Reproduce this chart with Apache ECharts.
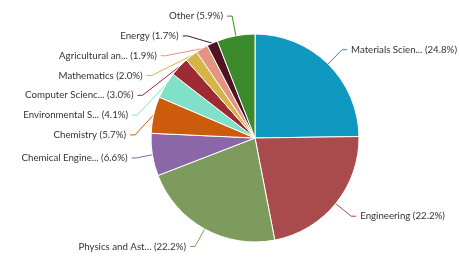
<!DOCTYPE html>
<html><head><meta charset="utf-8">
<script src="https://cdn.jsdelivr.net/npm/echarts@6/dist/echarts.min.js"></script>
<style>html,body{margin:0;padding:0;background:#fff}#c{width:459px;height:268px}</style>
</head><body><div id="c"></div>
<script>
const categories = ['Materials Scien...', 'Engineering', 'Physics and Ast...', 'Chemical Engine...', 'Chemistry', 'Environmental S...', 'Computer Scienc...', 'Mathematics', 'Agricultural an...', 'Energy', 'Other'];
const values = [24.8, 22.2, 22.2, 6.6, 5.7, 4.1, 3.0, 2.0, 1.9, 1.7, 5.9];
const colors = ['#0f98c0', '#a94a4c', '#7d9b5c', '#8b66a9', '#cc5c0c', '#80e0c8', '#9e2a33', '#d6b445', '#e29580', '#4e1422', '#3b8a2c'];

const chart = echarts.init(document.getElementById('c'), null, {renderer: 'canvas'});
chart.setOption({
  animation: false,
  series: [{
    type: 'pie',
    center: [255, 138],
    radius: [0, 104],
    startAngle: 90,
    clockwise: true,
    avoidLabelOverlap: true,
    itemStyle: {borderColor: '#fff', borderWidth: 1},
    label: {
      formatter: p => p.name + ' (' + p.value.toFixed(1) + '%)',
      fontFamily: 'Lato',
      fontSize: 9.7,
      color: '#333',
      lineHeight: 17.8,
      overflow: 'none',
      distanceToLabelLine: 4
    },
    labelLine: {length: 20, length2: 5, lineStyle: {width: 1}},
    data: categories.map((n, i) => ({name: n, value: values[i], itemStyle: {color: colors[i]}}))
  }]
});
</script></body></html>
